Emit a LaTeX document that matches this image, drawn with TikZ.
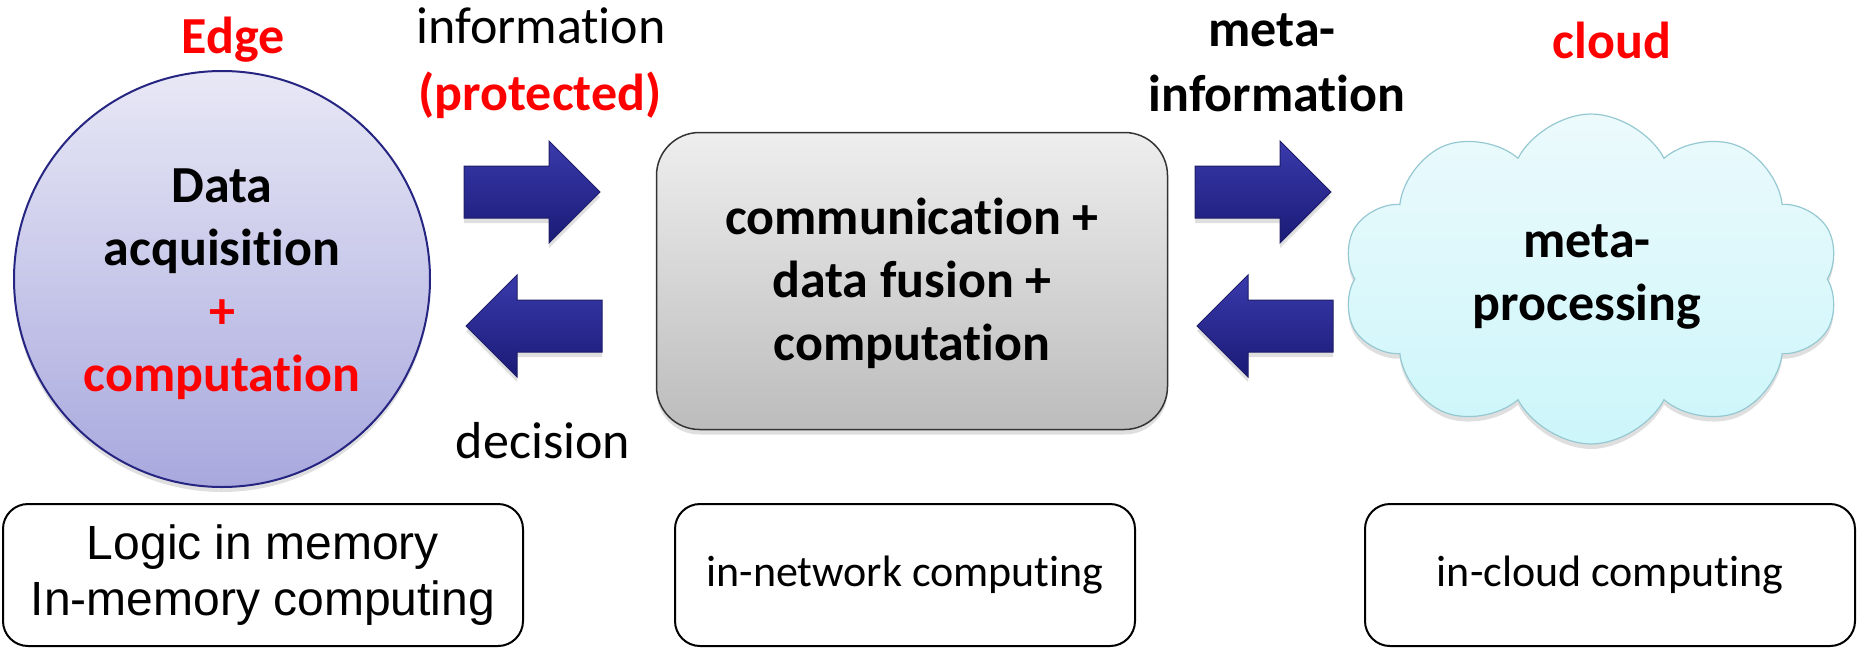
\documentclass[tikz,border=0pt]{standalone}
\usepackage{fontspec}
\setmainfont{Carlito}[Ligatures=NoCommon]
\newfontfamily\arialfont{Liberation Sans}
\usetikzlibrary{shapes.symbols,shapes.arrows,shadows}
\definecolor{txtred}{RGB}{255,0,0}
\definecolor{circtop}{RGB}{232,232,246}
\definecolor{circbot}{RGB}{168,168,222}
\definecolor{circedge}{RGB}{38,38,130}
\definecolor{boxtop}{RGB}{238,238,238}
\definecolor{boxbot}{RGB}{188,188,188}
\definecolor{cloudtop}{RGB}{236,250,252}
\definecolor{cloudbot}{RGB}{204,246,250}
\definecolor{cloudedge}{RGB}{150,200,210}
\definecolor{arrtop}{RGB}{58,58,172}
\definecolor{arrbot}{RGB}{26,26,118}
\definecolor{arredge}{RGB}{30,30,105}
\begin{document}
\begin{tikzpicture}[x=1pt,y=-1pt,
  boldtxt/.style={font=\fontsize{52}{63}\selectfont\bfseries, align=center, inner sep=0pt},
  plaintxt/.style={font=\fontsize{52}{63}\selectfont, align=center, inner sep=0pt},
  redtxt/.style={text=txtred},
  softshadow/.style={drop shadow={opacity=0.25, shadow xshift=0pt, shadow yshift=-5pt}},
  blockarrow/.style={single arrow, single arrow head extend=25pt, single arrow head indent=0pt,
    minimum width=101pt, minimum height=136pt, inner xsep=0pt, inner ysep=25.5pt,
    draw=arredge, line width=1pt, top color=arrtop, bottom color=arrbot, softshadow},
  infobox/.style={draw=black, line width=2pt, rounded corners=25pt, fill=white,
    minimum height=142pt, inner sep=0pt, align=center, font=\fontsize{44}{56}\selectfont}
]
\useasboundingbox (0,0) rectangle (1858,648);

% main shapes
\node[circle, minimum size=416pt, inner sep=0pt, draw=circedge, line width=2pt,
  top color=circtop, bottom color=circbot, softshadow] (edge) at (222,279) {};
\node[boldtxt] (edgetxt) at (222,284) {Data\\acquisition\\{\color{txtred}+}\\{\color{txtred}computation}};

\node[rounded corners=43pt, minimum width=511pt, minimum height=297pt, draw=black!80, line width=1.5pt,
  top color=boxtop, bottom color=boxbot, softshadow] (net) at (912,281) {};
\node[boldtxt] (nettxt) at (912,283) {communication +\\data fusion +\\computation};

\node[cloud, cloud puffs=10, cloud puff arc=125, aspect=1.5, minimum width=497pt, minimum height=330pt,
  inner sep=0pt, draw=cloudedge, line width=1.2pt, top color=cloudtop, bottom color=cloudbot, softshadow]
  (cloud) at (1591,279) {};
\node[boldtxt] (cloudtxt) at (1587,277) {meta-\\processing};

% block arrows
\node[blockarrow] (a1) at (519,192) {};
\node[blockarrow, shape border rotate=180] (a2) at (547,326) {};
\node[blockarrow] (a3) at (1250,192) {};
\node[blockarrow, shape border rotate=180] (a4) at (1278,326) {};

% labels
\node[boldtxt, redtxt] (lEdge) at (233,40) {Edge};
\node[plaintxt] (lInfo) at (541,26) {information};
\node[boldtxt, redtxt] (lProt) at (540,95) {(protected)};
\node[boldtxt] (lMeta) at (1272,30) {meta-};
\node[boldtxt] (lMetaInfo) at (1277,93) {information};
\node[boldtxt, redtxt] (lCloud) at (1612,40) {cloud};
\node[plaintxt] (lDec) at (543,441) {decision};

% bottom boxes
\node[infobox, minimum width=520pt, font=\arialfont\fontsize{48}{56}\selectfont] (b1) at (263,575)
  {Logic in memory\\In-memory computing};
\node[infobox, minimum width=460pt] (b2) at (905,575) {in-network computing};
\node[infobox, minimum width=490pt] (b3) at (1610,575) {in-cloud computing};
\end{tikzpicture}
\end{document}
